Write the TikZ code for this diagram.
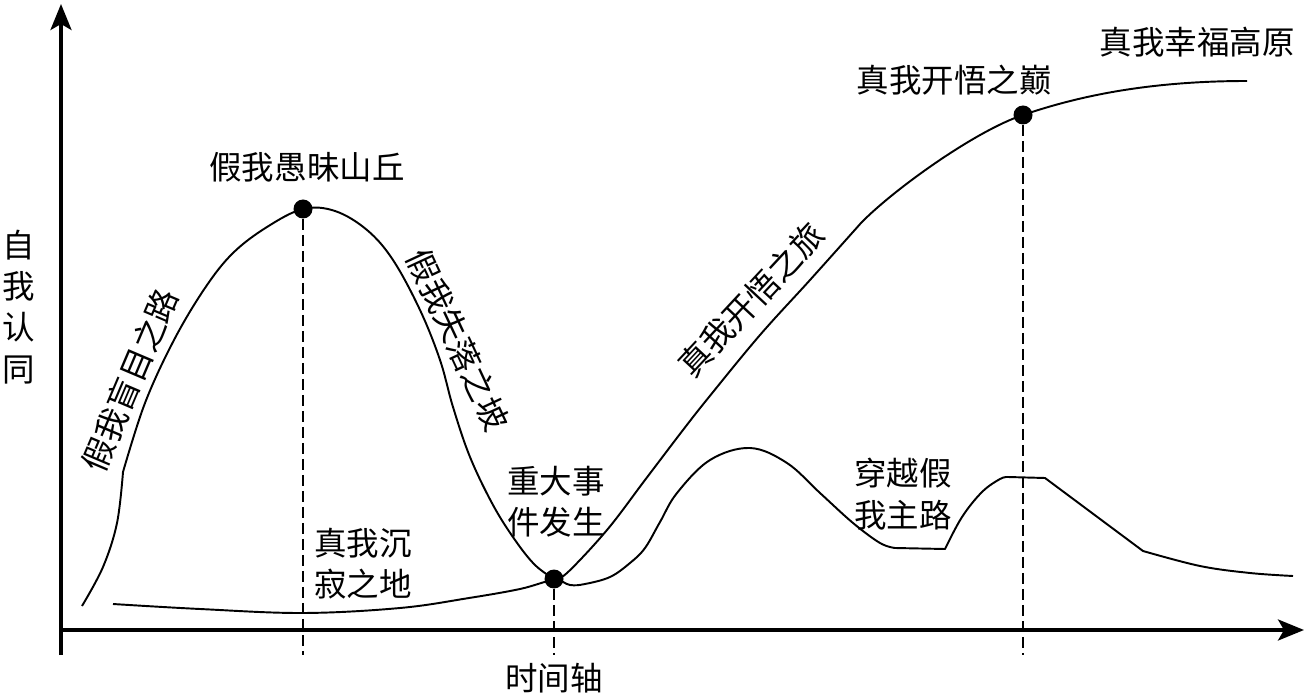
\documentclass[tikz,border=0pt]{standalone}
\usepackage{fontspec}
\setmainfont{Noto Sans CJK SC}
\usetikzlibrary{arrows.meta}

\begin{document}
\begin{tikzpicture}[
        x=0.02cm, y=-0.02cm,
        axis/.style={line width=2pt, -{Stealth[length=0.52cm, width=0.42cm, inset=0.12cm]}},
        curve/.style={line width=1.1pt, line join=round},
        guide/.style={line width=1.6pt, dash pattern=on 0.22cm off 0.1cm},
        dot/.style={circle, fill=black, inner sep=0pt, minimum size=0.38cm},
        lbl/.style={font=\fontsize{18.5}{23.5}\selectfont, inner sep=0pt, align=center}
    ]
    \useasboundingbox (0,0) rectangle (1311,695);

    \coordinate (origin) at (61,630);
    \coordinate (ybot) at (61,655);
    \coordinate (ytop) at (61,4);
    \coordinate (xend) at (1304,630);
    \draw[axis] (ybot) -- (ytop);
    \draw[axis] (origin) -- (xend);

    \node[lbl] (ylabel) at (19,307) {自\\我\\认\\同};
    \node[lbl] (xlabel) at (554,678) {时间轴};

    % upper path
    \draw[curve] plot[smooth, tension=0.6] coordinates {(82,606) (103,567) (117,523) (123,472)}
        -- plot[smooth, tension=0.6] coordinates {(123,472) (145,403) (174,340) (205,288) (233,253) (267,227) (303,209) (335,211) (367,230) (393,260) (420,310) (440,360) (453,407) (470,457) (493,505) (515,540) (535,565) (554,579)}
        -- plot[smooth, tension=0.6] coordinates {(554,579) (567,573) (607,530) (645,480) (683,430) (709,397) (760,335) (810,280) (861,223)}
        .. controls (893,190) and (975,131) .. (1023,115)
        .. controls (1070,99) and (1140,81) .. (1247,81);

    % lower path
    \draw[curve] plot[smooth, tension=0.6] coordinates {(113,604) (200,609) (303,613) (400,608) (469,598) (520,589) (554,580) (570,585) (585,584) (610,577) (630,563) (645,548) (660,522) (677,493) (710,460) (750,448) (787,463) (820,493) (853,523) (880,543) (895,548)}
        -- (945,549)
        -- plot[smooth, tension=0.6] coordinates {(945,549) (962,517) (982,492) (1000,479) (1008,477)}
        -- (1045,478) -- (1143,551)
        -- plot[smooth, tension=0.6] coordinates {(1143,551) (1200,566) (1250,573) (1293,576)};

    \node[dot] (hill) at (303,209) {};
    \node[dot] (event) at (554,579) {};
    \node[dot] (peak) at (1023,115) {};

    \coordinate (hillfoot) at (303,655);
    \coordinate (eventfoot) at (554,655);
    \coordinate (peakfoot) at (1023,655);
    \draw[guide] (hill) -- (hillfoot);
    \draw[guide] (event) -- (eventfoot);
    \draw[guide] (peak) -- (peakfoot);

    \node[lbl] (hilltext) at (307,167) {假我愚昧山丘};
    \node[lbl] (peaktext) at (954,80) {真我开悟之巅};
    \node[lbl] (plateau) at (1197,42) {真我幸福高原};
    \node[lbl] (silence) at (363,564) {真我沉\\寂之地};
    \node[lbl] (eventtext) at (556,502) {重大事\\件发生};
    \node[lbl] (cross) at (903,494) {穿越假\\我主路};

    \node[lbl, rotate=67] (blind) at (130,380) {假我盲目之路};
    \node[lbl, rotate=-65] (slope) at (458,340) {假我失落之坡};
    \node[lbl, rotate=47] (journey) at (751,300) {真我开悟之旅};

\end{tikzpicture}
\end{document}
